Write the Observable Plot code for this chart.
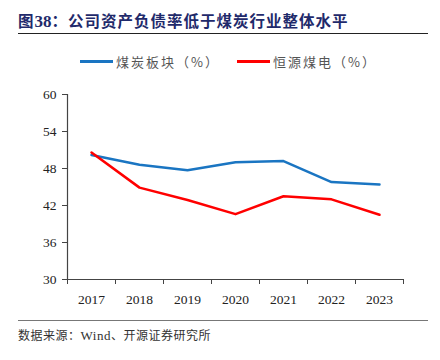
<!DOCTYPE html>
<html><head><meta charset="utf-8">
<script src="https://cdn.jsdelivr.net/npm/d3@7"></script>
<script src="https://cdn.jsdelivr.net/npm/@observablehq/plot@0.6"></script>
<style>
body{margin:0;background:#fff;width:440px;height:360px;position:relative;overflow:hidden;font-family:"Noto Sans CJK SC",sans-serif;}
#title{position:absolute;left:18px;top:9px;font-size:15.5px;font-weight:bold;color:#1f2a6b;white-space:nowrap;letter-spacing:1px}
#title .n{font-family:"Liberation Serif",serif;font-size:17px;letter-spacing:0}
#tl{position:absolute;left:18px;top:33px;width:410px;height:1px;background:#222}
#legend{position:absolute;top:52px;left:0;width:440px;font-size:13px;color:#555;}
.li{position:absolute;display:flex;align-items:center;white-space:nowrap;letter-spacing:2px}
.sw{display:inline-block;width:33px;height:3px;margin-right:3px}
#chart{position:absolute;left:0;top:80px}
#fl{position:absolute;left:18px;top:320px;width:410px;height:1px;background:#777}
#foot{position:absolute;left:18px;top:326px;font-size:12px;color:#333;white-space:nowrap;letter-spacing:0.5px}
#foot .w{font-family:"Liberation Serif",serif;font-size:13px}
</style></head>
<body>
<div id="title">图<span class="n">38</span>：公司资产负债率低于煤炭行业整体水平</div>
<div id="tl"></div>
<div id="legend"></div>
<div id="chart"></div>
<div id="fl"></div>
<div id="foot">数据来源：<span class="w">Wind</span>、开源证券研究所</div>
<script>
const years = [2017, 2018, 2019, 2020, 2021, 2022, 2023];
const coalSector = [50.2, 48.6, 47.7, 49.0, 49.2, 45.8, 45.4];
const hengyuan = [50.6, 44.9, 42.9, 40.6, 43.5, 43.0, 40.5];
const seriesNames = ["煤炭板块（%）", "恒源煤电（%）"];
const seriesColors = ["#1a75c2", "#ff0000"];
const yTicks = [30, 36, 42, 48, 54, 60];

const data = [];
years.forEach((y, i) => {
  data.push({year: y, value: coalSector[i], series: seriesNames[0]});
  data.push({year: y, value: hengyuan[i], series: seriesNames[1]});
});
const edges = [years[0] - 0.5, ...years.map(y => y + 0.5)];

const chart = Plot.plot({
  width: 440, height: 230,
  marginLeft: 67, marginRight: 37, marginTop: 14, marginBottom: 31,
  style: {fontFamily: "'Liberation Serif', serif", fontSize: "13.5px", color: "#222", background: "white"},
  x: {domain: [edges[0], edges[edges.length - 1]]},
  y: {domain: [30, 60]},
  color: {domain: seriesNames, range: seriesColors},
  marks: [
    Plot.axisY({ticks: yTicks, tickSize: 5, tickPadding: 6, label: null, stroke: "#444", fill: "#222", fontSize: 13.5}),
    Plot.axisX({ticks: edges, tickSize: 5, tickFormat: () => "", label: null, stroke: "#444"}),
    Plot.axisX({ticks: years, tickSize: 0, tickPadding: 15, tickFormat: d => String(d), label: null, fill: "#222", fontSize: 13.5}),
    Plot.ruleX([edges[0]], {stroke: "#444", strokeWidth: 1.2}),
    Plot.ruleY([30], {stroke: "#444", strokeWidth: 1.2}),
    Plot.line(data, {x: "year", y: "value", z: "series", stroke: "series", strokeWidth: 2.5})
  ]
});
document.getElementById("chart").appendChild(chart);

const legend = document.getElementById("legend");
const lefts = [80, 237];
seriesNames.forEach((n, i) => {
  const d = document.createElement("div");
  d.className = "li";
  d.style.left = lefts[i] + "px";
  d.innerHTML = `<span class="sw" style="background:${seriesColors[i]}"></span>${n}`;
  legend.appendChild(d);
});
</script>
</body></html>
